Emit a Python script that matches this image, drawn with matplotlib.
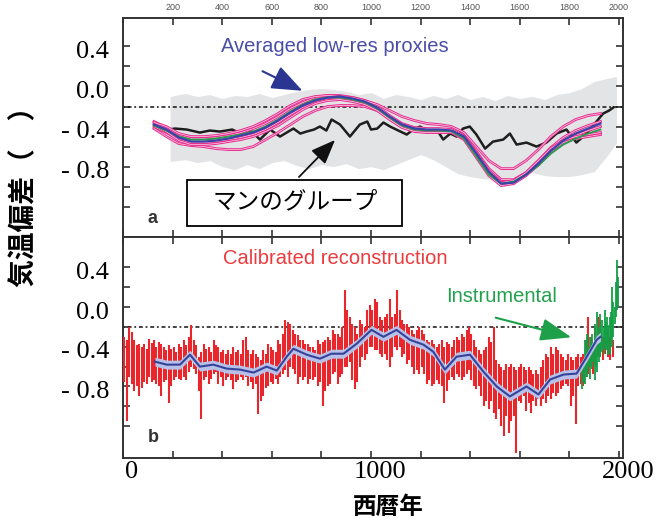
import numpy as np
import matplotlib
matplotlib.use("Agg")
import matplotlib.pyplot as plt
from matplotlib.patches import Rectangle
from matplotlib.transforms import ScaledTranslation, blended_transform_factory

plt.rcParams['font.family'] = ['Liberation Sans', 'Noto Sans CJK JP', 'DejaVu Sans']

# ---------------- data: panel a ----------------
years_a = [125, 175, 225, 275, 325, 375, 425, 475, 525, 575, 625, 675, 725, 775, 825, 875, 925, 975,
           1025, 1075, 1125, 1175, 1225, 1275, 1325, 1375, 1425, 1475, 1525, 1575, 1625, 1675, 1725,
           1775, 1825, 1875, 1925]
blue_a = [-0.38, -0.43, -0.51, -0.55, -0.55, -0.54, -0.52, -0.49, -0.46, -0.41, -0.34, -0.26, -0.19,
          -0.14, -0.11, -0.10, -0.12, -0.15, -0.21, -0.30, -0.38, -0.42, -0.43, -0.43, -0.44, -0.50,
          -0.67, -0.85, -0.97, -0.96, -0.88, -0.77, -0.64, -0.54, -0.47, -0.42, -0.37]
green_a = [-0.39, -0.44, -0.50, -0.53, -0.53, -0.52, -0.50, -0.48, -0.45, -0.40, -0.33, -0.25, -0.18,
           -0.13, -0.11, -0.11, -0.13, -0.16, -0.22, -0.31, -0.39, -0.43, -0.44, -0.44, -0.45, -0.52,
           -0.70, -0.88, -0.97, -0.95, -0.88, -0.79, -0.67, -0.58, -0.52, -0.47, -0.43]
mag1 = [-0.35, -0.41, -0.48, -0.52, -0.52, -0.51, -0.49, -0.46, -0.42, -0.37, -0.30, -0.22, -0.16,
        -0.11, -0.09, -0.09, -0.11, -0.14, -0.20, -0.29, -0.37, -0.41, -0.42, -0.42, -0.43, -0.49,
        -0.65, -0.82, -0.93, -0.93, -0.86, -0.74, -0.61, -0.51, -0.44, -0.39, -0.35]
mag2 = [-0.40, -0.46, -0.53, -0.56, -0.56, -0.55, -0.53, -0.51, -0.48, -0.43, -0.36, -0.28, -0.21,
        -0.16, -0.13, -0.12, -0.14, -0.17, -0.23, -0.32, -0.40, -0.44, -0.45, -0.45, -0.46, -0.53,
        -0.71, -0.89, -0.99, -0.97, -0.89, -0.78, -0.66, -0.56, -0.49, -0.44, -0.40]
mag3 = [-0.36, -0.40, -0.47, -0.50, -0.50, -0.49, -0.47, -0.44, -0.40, -0.34, -0.27, -0.19, -0.13,
        -0.10, -0.09, -0.10, -0.11, -0.14, -0.18, -0.24, -0.30, -0.34, -0.37, -0.38, -0.40, -0.46,
        -0.60, -0.74, -0.82, -0.82, -0.74, -0.63, -0.50, -0.40, -0.33, -0.29, -0.27]
mag4 = [-0.42, -0.50, -0.57, -0.59, -0.60, -0.62, -0.63, -0.63, -0.60, -0.53, -0.46, -0.38, -0.30,
        -0.24, -0.20, -0.19, -0.19, -0.20, -0.24, -0.31, -0.38, -0.42, -0.44, -0.44, -0.45, -0.50,
        -0.66, -0.84, -0.95, -0.95, -0.87, -0.76, -0.64, -0.56, -0.52, -0.50, -0.48]
mag5 = [-0.38, -0.45, -0.54, -0.58, -0.58, -0.57, -0.55, -0.53, -0.50, -0.45, -0.39, -0.31, -0.23,
        -0.17, -0.14, -0.13, -0.15, -0.18, -0.24, -0.33, -0.41, -0.45, -0.46, -0.46, -0.46, -0.52,
        -0.68, -0.86, -0.96, -0.94, -0.86, -0.74, -0.62, -0.54, -0.50, -0.48, -0.46]
magentas = [mag1, mag2, mag3, mag4, mag5]

black_years = [130, 160, 210, 257, 310, 350, 391, 440, 485, 520, 552, 593, 633, 660, 687, 715, 740,
               770, 794, 820, 841, 875, 915, 955, 985, 1000, 1025, 1050, 1077, 1110, 1144, 1170, 1198,
               1230, 1265, 1291, 1320, 1345, 1371, 1398, 1425, 1460, 1492, 1533, 1560, 1587, 1627,
               1667, 1707, 1748, 1788, 1828, 1869, 1909, 1936, 1960, 1977]
black_vals = [-0.41, -0.44, -0.42, -0.43, -0.46, -0.44, -0.45, -0.43, -0.48, -0.45, -0.53, -0.43,
              -0.50, -0.46, -0.42, -0.47, -0.45, -0.43, -0.40, -0.44, -0.33, -0.38, -0.50, -0.38,
              -0.35, -0.43, -0.42, -0.36, -0.40, -0.44, -0.48, -0.43, -0.40, -0.45, -0.43, -0.53,
              -0.47, -0.50, -0.42, -0.40, -0.48, -0.62, -0.55, -0.53, -0.47, -0.58, -0.56, -0.60,
              -0.56, -0.47, -0.43, -0.56, -0.47, -0.35, -0.27, -0.24, -0.21]

band_years = [190, 250, 300, 350, 400, 450, 500, 550, 600, 650, 700, 750, 800, 850, 900, 950, 1000,
              1050, 1100, 1150, 1200, 1250, 1300, 1350, 1400, 1450, 1500, 1550, 1600, 1650, 1700,
              1750, 1800, 1850, 1900, 1950, 1990]
band_hi = [-0.10, -0.07, -0.10, -0.08, -0.12, -0.09, -0.10, -0.07, -0.11, -0.08, -0.05, -0.03, -0.02,
           -0.03, -0.05, -0.08, -0.06, -0.12, -0.08, -0.10, -0.13, -0.09, -0.12, -0.08, -0.13, -0.10,
           -0.14, -0.09, -0.12, -0.10, -0.13, -0.08, -0.06, -0.02, 0.05, 0.08, 0.10]
band_lo = [-0.75, -0.73, -0.76, -0.74, -0.80, -0.83, -0.78, -0.82, -0.76, -0.74, -0.79, -0.82, -0.78,
           -0.80, -0.77, -0.82, -0.80, -0.83, -0.78, -0.73, -0.68, -0.73, -0.80, -0.87, -0.90, -0.92,
           -0.93, -0.92, -0.88, -0.86, -0.89, -0.90, -0.90, -0.88, -0.85, -0.70, -0.56]

# ---------------- data: panel b ----------------
red_years = list(range(0, 1980, 10))
red_hi = [-0.30, -0.33, -0.20, -0.25, -0.33, -0.38, -0.37, -0.40, -0.37, -0.42,
          -0.32, -0.36, -0.33, -0.40, -0.35, -0.37, -0.40, -0.43, -0.38, -0.42,
          -0.40, -0.45, -0.37, -0.40, -0.33, -0.38, -0.30, -0.18, -0.33, -0.38,
          -0.50, -0.45, -0.37, -0.42, -0.40, -0.45, -0.33, -0.38, -0.40, -0.45,
          -0.43, -0.47, -0.43, -0.47, -0.40, -0.45, -0.43, -0.47, -0.33, -0.30,
          -0.43, -0.47, -0.43, -0.47, -0.50, -0.53, -0.43, -0.47, -0.37, -0.40,
          -0.43, -0.45, -0.33, -0.37, -0.27, -0.13, -0.15, -0.17, -0.23, -0.27,
          -0.28, -0.33, -0.33, -0.37, -0.37, -0.40, -0.40, -0.43, -0.33, -0.37,
          -0.35, -0.33, -0.30, -0.33, -0.23, -0.27, -0.27, -0.30, -0.20, 0.17,
          -0.03, -0.10, -0.17, -0.20, -0.27, -0.13, -0.17, -0.20, -0.03, 0.02,
          -0.03, 0.08, 0.05, -0.10, -0.13, -0.10, -0.07, 0.08, -0.10, -0.07,
          0.17, -0.03, -0.13, -0.17, -0.17, -0.20, -0.23, -0.27, -0.23, -0.20,
          -0.23, -0.27, -0.33, -0.35, -0.33, -0.37, -0.40, -0.37, -0.33, -0.40,
          -0.35, -0.37, -0.40, -0.33, -0.30, -0.33, -0.27, -0.30, -0.23, -0.20,
          -0.27, -0.33, -0.40, -0.43, -0.47, -0.43, -0.40, -0.30, -0.35, -0.20,
          -0.53, -0.57, -0.60, -0.63, -0.57, -0.60, -0.57, -0.60, -0.63, -0.60,
          -0.57, -0.60, -0.63, -0.60, -0.63, -0.67, -0.63, -0.67, -0.60, -0.53,
          -0.47, -0.50, -0.40, -0.47, -0.40, -0.43, -0.47, -0.50, -0.53, -0.47,
          -0.50, -0.53, -0.50, -0.47, -0.50, -0.47, -0.33, -0.10, -0.30, -0.37,
          -0.20, -0.10, -0.13, -0.30, -0.23, -0.20, -0.30, -0.33]
red_lo = [-0.75, -1.15, -0.70, -0.77, -0.85, -0.80, -0.90, -0.82, -0.75, -0.78,
          -0.70, -0.75, -0.73, -0.77, -0.80, -0.90, -0.75, -0.73, -0.97, -0.80,
          -0.73, -0.70, -0.72, -0.73, -0.70, -0.73, -0.65, -0.60, -0.62, -0.67,
          -0.85, -1.13, -0.73, -0.70, -0.77, -0.72, -0.67, -0.65, -0.77, -0.70,
          -0.80, -0.73, -0.70, -0.73, -0.83, -0.75, -0.73, -0.70, -0.73, -0.70,
          -0.80, -0.75, -0.83, -0.77, -1.08, -0.95, -0.90, -0.82, -0.80, -0.75,
          -0.77, -0.72, -0.77, -0.70, -0.67, -0.63, -0.70, -0.60, -0.62, -0.67,
          -0.77, -0.70, -0.73, -0.70, -0.77, -0.72, -0.73, -0.70, -0.80, -0.75,
          -1.00, -0.85, -0.80, -0.77, -0.67, -0.65, -0.77, -0.70, -0.67, -0.60,
          -0.60, -0.55, -0.73, -0.83, -0.75, -0.60, -0.50, -0.53, -0.47, -0.40,
          -0.40, -0.43, -0.43, -0.47, -0.50, -0.47, -0.53, -0.60, -0.50, -0.40,
          -0.43, -0.40, -0.50, -0.47, -0.57, -0.53, -0.60, -0.67, -0.63, -0.67,
          -0.60, -0.67, -0.77, -0.73, -0.80, -0.77, -0.73, -0.77, -0.80, -0.97,
          -0.85, -0.73, -0.70, -0.73, -0.67, -0.70, -0.73, -0.70, -0.67, -0.63,
          -0.73, -0.80, -0.83, -0.80, -0.90, -1.00, -0.95, -1.03, -0.95, -1.07,
          -1.13, -1.03, -1.20, -1.30, -1.10, -1.27, -1.15, -1.10, -1.47, -0.95,
          -0.97, -0.90, -1.05, -0.97, -1.07, -0.95, -1.00, -0.93, -1.00, -0.93,
          -0.97, -0.90, -0.93, -0.87, -0.90, -0.87, -0.83, -0.80, -0.77, -0.80,
          -1.00, -0.90, -1.18, -0.80, -0.77, -0.80, -0.70, -0.67, -0.60, -0.67,
          -0.57, -0.50, -0.50, -0.53, -0.47, -0.50, -0.53, -0.50]

instr_years = list(range(1850, 2000, 5))
instr_hi = [-0.62, -0.55, -0.33, -0.45, -0.27, -0.40, -0.30, -0.35, -0.27, -0.38, -0.17, -0.30,
            -0.05, -0.20, -0.07, -0.25, -0.13, -0.20, -0.03, -0.15, -0.10, -0.18, -0.10, -0.05,
            0.20, 0.05, 0.00, 0.25, 0.47, 0.30]
instr_lo = [-0.83, -0.75, -0.77, -0.65, -0.70, -0.60, -0.72, -0.62, -0.60, -0.55, -0.73, -0.60,
            -0.65, -0.55, -0.50, -0.45, -0.43, -0.47, -0.37, -0.42, -0.43, -0.48, -0.47, -0.40,
            -0.40, -0.30, -0.17, -0.10, -0.03, 0.00]

smooth_years = [129, 176, 230, 270, 310, 364, 418, 472, 526, 579, 620, 660, 687, 741, 794, 840,
                889, 942, 1002, 1050, 1103, 1157, 1212, 1251, 1298, 1345, 1399, 1453, 1507, 1560,
                1600, 1627, 1675, 1722, 1776, 1829, 1870, 1910, 1925]
smooth_vals = [-0.55, -0.58, -0.58, -0.48, -0.60, -0.58, -0.62, -0.63, -0.66, -0.60, -0.64, -0.50,
               -0.42, -0.48, -0.52, -0.47, -0.47, -0.37, -0.23, -0.30, -0.23, -0.33, -0.38, -0.45,
               -0.63, -0.50, -0.48, -0.65, -0.80, -0.90, -0.84, -0.80, -0.88, -0.73, -0.68, -0.67,
               -0.50, -0.33, -0.30]
smooth_err = 0.045

ref_level = -0.2
yticks = [0.4, 0.2, 0.0, -0.2, -0.4, -0.6, -0.8, -1.0, -1.2]
ytick_labels = ['0.4', '', '0.0', '', '- 0.4', '', '- 0.8', '', '']
xticks = list(range(0, 2001, 200))
xtick_labels = ['0', '', '', '', '', '1000', '', '', '', '', '2000']
top_labels = ['200', '400', '600', '800', '1000', '1200', '1400', '1600', '1800', '2000']

# ---------------- figure ----------------
W, H = 659, 520
fig = plt.figure(figsize=(W / 100, H / 100), dpi=100)


def fp(px, py):
    return (px / W, 1 - py / H)


ax_a = fig.add_axes([123 / W, 1 - 237 / H, 500 / W, (237 - 18) / H])
ax_b = fig.add_axes([123 / W, 1 - 458 / H, 500 / W, (458 - 237) / H])
ax_a.set_ylim(-1.503, 0.684)
ax_b.set_ylim(-1.52, 0.705)

spine_c = '#333333'
for ax in (ax_a, ax_b):
    ax.set_xlim(0, 2016)
    ax.set_xticks(xticks)
    ax.set_yticks(yticks)
    ax.set_yticklabels(ytick_labels, fontfamily='Liberation Serif', fontsize=19)
    ax.tick_params(direction='in', length=5, width=1.2, color=spine_c, top=True, right=True,
                   bottom=True, left=True, pad=10)
    for s in ax.spines.values():
        s.set_linewidth(1.4)
        s.set_color(spine_c)
    for lbl in ax.get_yticklabels():
        lbl.set_transform(lbl.get_transform() + ScaledTranslation(0, -3 / 100, fig.dpi_scale_trans))
    ax.axhline(ref_level, color='#111111', lw=1.1, ls=(0, (1.2, 1.8, 2.6, 1.8)), zorder=2)

ax_a.set_xticklabels([])
ax_b.set_xticklabels(xtick_labels, fontfamily='Liberation Serif', fontsize=19)
ax_b.tick_params(axis='x', pad=2)
for lbl in ax_b.get_xticklabels():
    lbl.set_transform(lbl.get_transform() + ScaledTranslation(9 / 100, 0, fig.dpi_scale_trans))

# panel a
ax_a.fill_between(band_years, band_lo, band_hi, color='#e3e4e6', lw=0, zorder=1)
ax_a.plot(black_years, black_vals, color='#1e1e1e', lw=1.8, zorder=3)
for m in magentas:
    ax_a.plot(years_a, m, color='#e8308f', lw=2.0, zorder=4)
    ax_a.plot(years_a, m, color='#fbd6ea', lw=0.5, zorder=4)
ax_a.plot(years_a, green_a, color='#2f9a50', lw=1.4, zorder=5)
ax_a.plot(years_a, blue_a, color='#3a44a8', lw=1.6, zorder=6)

# panel b
ax_b.vlines(np.array(red_years) + 5, red_lo, red_hi, color='#e8262b', lw=1.5, zorder=3)
ax_b.vlines(np.array(instr_years) + 2.5, instr_lo, instr_hi, color='#12a046', lw=1.3, zorder=4)
sv = np.array(smooth_vals)
ax_b.fill_between(smooth_years, sv - smooth_err, sv + smooth_err, color='#b7c0e8', lw=0, zorder=5)
ax_b.plot(smooth_years, smooth_vals, color='#37429a', lw=1.5, zorder=6)

# texts
fig.text(*fp(335, 47), 'Averaged low-res proxies', color='#4a4ea8', fontsize=14.5,
         ha='center', va='center')
fig.text(*fp(335, 258), 'Calibrated reconstruction', color='#ec3a3d', fontsize=14.5,
         ha='center', va='center')
fig.text(*fp(502, 297), 'Instrumental', color='#22a24e', fontsize=14.5, ha='center', va='center')
fig.text(*fp(148, 218), 'a', color='#333333', fontsize=13, fontweight='bold', va='center')
fig.text(*fp(148, 437), 'b', color='#333333', fontsize=13, fontweight='bold', va='center')

fig.add_artist(Rectangle(fp(187, 226), 215 / W, 46 / H, transform=fig.transFigure,
                         fc='white', ec='black', lw=1.3, zorder=3))
fig.text(*fp(295, 202), 'マンのグループ', fontsize=17, family=['Noto Sans CJK JP'],
         ha='center', va='center', zorder=4)

ax_a.annotate('', xy=fp(305, 92), xytext=fp(260, 70), xycoords='figure fraction',
              arrowprops=dict(arrowstyle='-|>,head_length=1.9,head_width=0.75', color='#2b3592',
                              lw=1.5, mutation_scale=10), annotation_clip=False, zorder=7)
ax_a.annotate('', xy=fp(337, 138), xytext=fp(297, 179), xycoords='figure fraction',
              arrowprops=dict(arrowstyle='-|>,head_length=1.5,head_width=0.6', color='#111111',
                              lw=1.3, mutation_scale=10), annotation_clip=False, zorder=7)
ax_b.annotate('', xy=fp(574, 338), xytext=fp(493, 317), xycoords='figure fraction',
              arrowprops=dict(arrowstyle='-|>,head_length=1.9,head_width=0.7', color='#1ea04a',
                              lw=1.5, mutation_scale=10), annotation_clip=False, zorder=7)

# small tick labels along the very top edge
top_tf = blended_transform_factory(ax_a.transData, fig.transFigure)
for yr, t in zip(xticks[1:], top_labels):
    ax_a.text(yr, 1 - 10 / H, t, transform=top_tf, fontsize=6.5, color='#555555',
              ha='center', va='baseline', clip_on=False)

fig.text(*fp(24, 190), '気温偏差（\u3000）', rotation=90, fontsize=20, fontweight='bold',
         family=['Noto Sans CJK JP'], ha='center', va='center')
fig.text(*fp(388, 507), '西暦年', fontsize=17, fontweight='bold', family=['Noto Sans CJK JP'],
         ha='center', va='center')

fig.savefig('out.png', dpi=100)
